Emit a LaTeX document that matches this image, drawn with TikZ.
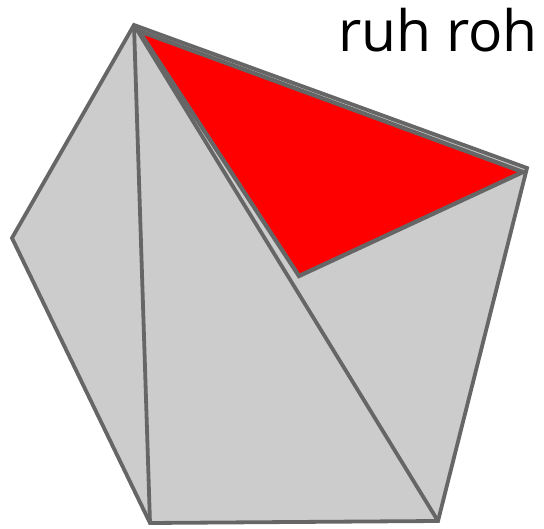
\documentclass[tikz,border=0pt]{standalone}
\usepackage{fontspec}
\setmainfont{Open Sans}
\definecolor{edgegray}{HTML}{666666}
\definecolor{facegray}{HTML}{CCCCCC}
\begin{document}
\begin{tikzpicture}[x=1pt,y=-1pt,
    face/.style={draw=edgegray, fill=facegray, line width=3.8pt},
    edge/.style={draw=edgegray, line width=3.8pt}]
    \useasboundingbox (0,0) rectangle (544,529);
    % Vertices of the outer polygon
    \coordinate (top) at (134,25);
    \coordinate (right) at (527,168);
    \coordinate (botr) at (438,521);
    \coordinate (botl) at (150,523);
    \coordinate (left) at (12,238);

    % Outer polygon (gray)
    \draw[face] (top) -- (right) -- (botr) -- (botl) -- (left) -- cycle;

    % Inner diagonals
    \draw[edge] (top) -- (botl);
    \draw[edge] (top) -- (botr);

    % Triangle (red)
    \coordinate (rtop) at (139,31);
    \coordinate (rright) at (523,172);
    \coordinate (rbot) at (299,276);
    \draw[edge, fill=red, line width=4.2pt] (rtop) -- (rright) -- (rbot) -- cycle;

    % Label
    \node[anchor=base west, inner sep=0pt, font=\fontsize{57}{60}\selectfont] (lbl) at (338,52) {ruh roh};
\end{tikzpicture}
\end{document}
